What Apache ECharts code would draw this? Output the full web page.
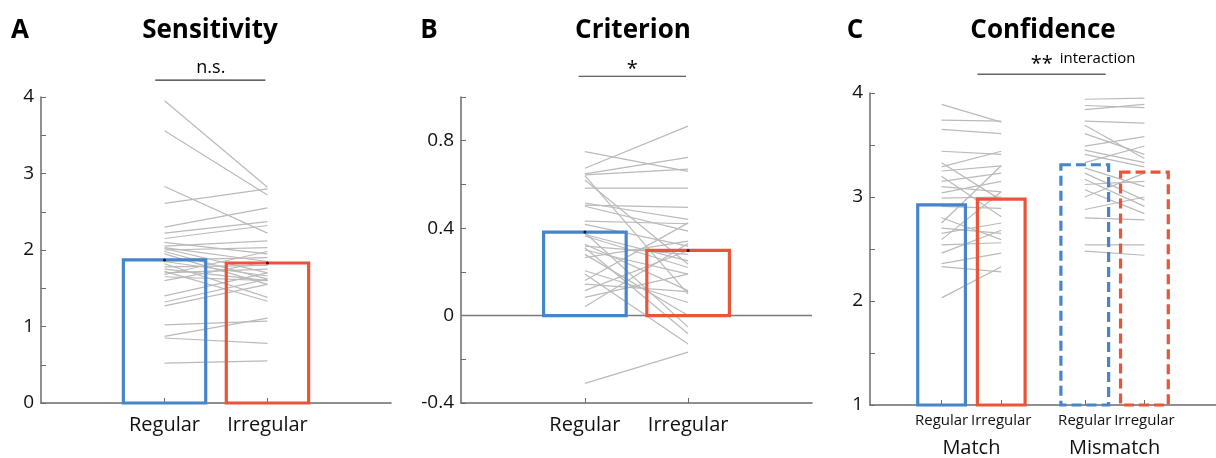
<!DOCTYPE html>
<html><head><meta charset="utf-8">
<script src="https://cdn.jsdelivr.net/npm/echarts@6/dist/echarts.min.js"></script>
<style>html,body{margin:0;padding:0;background:#fff}#c{width:1216px;height:458px}</style>
</head><body><div id="c"></div>
<script>
// ---------- data ----------
const categories = ['Regular', 'Irregular'];
const groupsC = ['Match', 'Mismatch'];
const titles = ['Sensitivity', 'Criterion', 'Confidence'];
const panelLetters = ['A', 'B', 'C'];

const ticksA = [0, 1, 2, 3, 4];
const ticksB = [-0.4, 0, 0.4, 0.8];
const ticksC = [1, 2, 3, 4];

const sensMeans = [1.87, 1.83];
const sensRegular   = [3.95,3.56,2.83,2.61,2.30,2.22,2.15,2.10,2.05,2.03,2.02,2.00,1.98,1.95,1.87,1.85,1.82,1.78,1.75,1.72,1.70,1.68,1.65,1.60,1.40,1.32,1.27,1.02,0.87,0.85,0.52];
const sensIrregular = [2.82,2.72,2.22,2.80,2.55,2.37,2.32,1.95,2.12,1.85,1.70,2.03,1.62,1.55,1.90,1.66,1.38,1.80,1.60,1.33,1.75,1.98,1.60,1.85,1.70,1.62,1.55,1.07,1.11,0.78,0.55];

const critMeans = [0.382, 0.298];
const critRegular   = [0.75,0.674,0.648,0.644,0.62,0.64,0.583,0.515,0.505,0.50,0.432,0.417,0.38,0.371,0.364,0.326,0.318,0.31,0.30,0.28,0.265,0.205,0.19,0.16,0.144,0.114,0.083,0.04,-0.31];
const critIrregular = [0.66,0.867,0.724,0.67,0.235,0.098,0.583,0.44,0.495,0.386,0.42,0.318,-0.053,0.25,0.22,0.114,0.28,-0.083,0.19,0.0,0.341,0.06,-0.13,0.424,0.11,0.298,0.19,0.33,-0.167];

const confMeans = [2.925, 2.98, 3.31, 3.24]; // Match-Regular, Match-Irregular, Mismatch-Regular, Mismatch-Irregular
const confMatchRegular   = [3.89,3.74,3.65,3.44,3.33,3.29,3.25,3.20,3.15,3.10,3.04,2.99,2.91,2.80,2.75,2.70,2.65,2.59,2.54,2.46,2.36,2.33,2.03];
const confMatchIrregular = [3.72,3.73,3.61,3.41,2.97,3.44,3.30,2.81,3.23,3.05,3.15,3.00,2.89,2.59,3.30,2.65,2.75,3.05,2.56,2.68,2.46,2.28,2.33];
const confMismatchRegular   = [3.94,3.88,3.84,3.73,3.69,3.61,3.49,3.45,3.41,3.33,3.28,3.23,3.17,3.12,3.07,3.00,2.88,2.80,2.54,2.48];
const confMismatchIrregular = [3.95,3.86,3.89,3.71,3.37,3.41,3.58,3.33,3.29,3.49,3.10,2.97,2.91,3.15,2.84,3.23,3.00,2.78,2.54,2.44];

// ---------- layout / style ----------
const FONT = '"Open Sans", "Noto Sans", sans-serif';
const BLUE = '#4685c9';
const RED = '#ea553a';
const GRAYLINE = '#bababa';
const AXIS = '#6b6b6b';
const TXT = '#111';
const posAB = [1, 2];
const posC = [1, 2, 3.4, 4.4];
const posCRegular = [1, 3.4];
const posCIrregular = [2, 4.4];
const groupPosC = [1.5, 3.9];
const BARW = 0.8;

function pairData(a, b, x0, x1) { return a.map((v, i) => [x0, v, x1, b[i]]); }

function pairSeries(idx, a, b, x0, x1) {
  return {
    type: 'custom', xAxisIndex: idx, yAxisIndex: idx, z: 2, silent: true,
    encode: { x: [0, 2], y: [1, 3] },
    data: pairData(a, b, x0, x1),
    renderItem: (params, api) => {
      const p0 = api.coord([api.value(0), api.value(1)]);
      const p1 = api.coord([api.value(2), api.value(3)]);
      return { type: 'line', shape: { x1: p0[0], y1: p0[1], x2: p1[0], y2: p1[1] },
               style: { stroke: GRAYLINE, lineWidth: 1.2 } };
    }
  };
}

function barSeries(idx, means, positions, base, colors, dashed) {
  return {
    type: 'custom', xAxisIndex: idx, yAxisIndex: idx, z: 3, silent: true,
    encode: { x: 0, y: 1 },
    data: means.map((v, i) => [positions[i], v, i]),
    renderItem: (params, api) => {
      const i = api.value(2);
      const p0 = api.coord([api.value(0) - BARW / 2, api.value(1)]);
      const p1 = api.coord([api.value(0) + BARW / 2, base]);
      return { type: 'rect',
        shape: { x: p0[0], y: p0[1], width: p1[0] - p0[0], height: p1[1] - p0[1] },
        style: { fill: 'none', stroke: colors[i], lineWidth: 3.2, lineDash: dashed[i] ? [10, 5] : null } };
    }
  };
}

function meanDots(idx, means, positions) {
  return { type: 'scatter', xAxisIndex: idx, yAxisIndex: idx, z: 4, silent: true,
    symbolSize: 3, itemStyle: { color: '#000' },
    data: means.map((v, i) => [positions[i], v]) };
}

function xAxisCfg(idx, min, max, values, labels, fontSize, margin, showLine, tickValues) {
  return {
    type: 'value', gridIndex: idx, min, max, position: 'bottom',
    splitLine: { show: false },
    axisLine: { show: showLine, onZero: false, lineStyle: { color: AXIS, width: 1.5 } },
    axisTick: { show: showLine, inside: true, length: 5, customValues: tickValues || values, lineStyle: { color: AXIS, width: 1 } },
    axisLabel: { customValues: values, interval: 0, hideOverlap: false, margin, fontSize, color: TXT, fontFamily: FONT,
      formatter: v => { const k = values.findIndex(p => Math.abs(p - v) < 1e-6); return k >= 0 ? labels[k] : ''; } }
  };
}

function yAxisCfg(idx, min, max, interval, labelled, fmt) {
  return {
    type: 'value', gridIndex: idx, min, max, interval,
    splitLine: { show: false },
    axisLine: { show: true, onZero: false, lineStyle: { color: AXIS, width: 1.5 } },
    axisTick: { show: true, inside: true, length: 5, lineStyle: { color: AXIS, width: 1 } },
    axisLabel: { margin: 7, fontSize: 19, color: TXT, fontFamily: FONT,
      formatter: v => labelled.some(t => Math.abs(t - v) < 1e-6) ? fmt(v) : '' }
  };
}

const chart = echarts.init(document.getElementById('c'), null, { renderer: 'canvas' });

const option = {
  animation: false,
  backgroundColor: '#fff',
  grid: [
    { left: 41, top: 97, width: 350, height: 306 },
    { left: 461, top: 97, width: 351, height: 306 },
    { left: 870, top: 93, width: 348, height: 312 }
  ],
  xAxis: [
    xAxisCfg(0, -0.2, 3.2, posAB, categories, 20, 12, true),
    xAxisCfg(1, -0.2, 3.2, posAB, categories, 20, 12, true),
    xAxisCfg(2, -0.2, 5.6, posCRegular, [categories[0], categories[0]], 15, 8, true, posC),
    xAxisCfg(2, -0.2, 5.6, posCIrregular, [categories[1], categories[1]], 15, 8, false),
    xAxisCfg(2, -0.2, 5.6, groupPosC, groupsC, 20, 33, false)
  ],
  yAxis: [
    yAxisCfg(0, 0, 4, 0.5, ticksA, v => String(v)),
    yAxisCfg(1, -0.4, 1.0, 0.2, ticksB, v => { const r = Math.round(v * 10) / 10; return r === 0 ? '0' : String(r); }),
    yAxisCfg(2, 1, 4, 0.5, ticksC, v => String(v))
  ],
  series: [
    pairSeries(0, sensRegular, sensIrregular, posAB[0], posAB[1]),
    barSeries(0, sensMeans, posAB, 0, [BLUE, RED], [false, false]),
    meanDots(0, sensMeans, posAB),

    { type: 'line', xAxisIndex: 1, yAxisIndex: 1, z: 1, silent: true, symbol: 'none',
      lineStyle: { color: '#7a7a7a', width: 1.5 }, data: [[-0.2, 0], [3.2, 0]] },
    pairSeries(1, critRegular, critIrregular, posAB[0], posAB[1]),
    barSeries(1, critMeans, posAB, 0, [BLUE, RED], [false, false]),
    meanDots(1, critMeans, posAB),

    pairSeries(2, confMatchRegular, confMatchIrregular, posC[0], posC[1]),
    pairSeries(2, confMismatchRegular, confMismatchIrregular, posC[2], posC[3]),
    barSeries(2, confMeans, posC, 1, [BLUE, RED, BLUE, RED], [false, false, true, true])
  ]
};
chart.setOption(option);

// ---------- titles and significance annotations ----------
function px(idx, x, y) { return chart.convertToPixel({ xAxisIndex: idx, yAxisIndex: idx }, [x, y]); }
const g = [];
function txt(x, y, text, size, weight, align) {
  g.push({ type: 'text', x, y, z: 10, style: { text, fontSize: size, fontWeight: weight || 'normal',
    fontFamily: FONT, fill: '#000', align: align || 'center', verticalAlign: 'middle' } });
}
function hline(p0, p1, color, w) {
  g.push({ type: 'line', z: 10, shape: { x1: p0[0], y1: p0[1], x2: p1[0], y2: p1[1] },
    style: { stroke: color, lineWidth: w } });
}
txt(20, 31, panelLetters[0], 26, 'bold');
txt(210, 31, titles[0], 26, 'bold');
txt(429, 31, panelLetters[1], 26, 'bold');
txt(633, 31, titles[1], 26, 'bold');
txt(855, 31, panelLetters[2], 26, 'bold');
txt(1043, 31, titles[2], 26, 'bold');

// A: n.s.
hline(px(0, 0.91, 4.22), px(0, 1.98, 4.22), '#333', 1.2);
const aT = px(0, 1.45, 4.38); txt(aT[0], aT[1], 'n.s.', 18);
// B: *
hline(px(1, 0.94, 1.095), px(1, 1.98, 1.095), '#333', 1.2);
const bT = px(1, 1.46, 1.125); txt(bT[0], bT[1], '*', 20);
// C: ** interaction
hline(px(2, 1.6, 4.18), px(2, 3.75, 4.18), '#666', 1.5);
const cT = px(2, 2.68, 4.28); txt(cT[0], cT[1], '**', 20);
const cI = px(2, 2.98, 4.33); txt(cI[0], cI[1], 'interaction', 15, 'normal', 'left');

chart.setOption({ graphic: g });
</script>
</body></html>
